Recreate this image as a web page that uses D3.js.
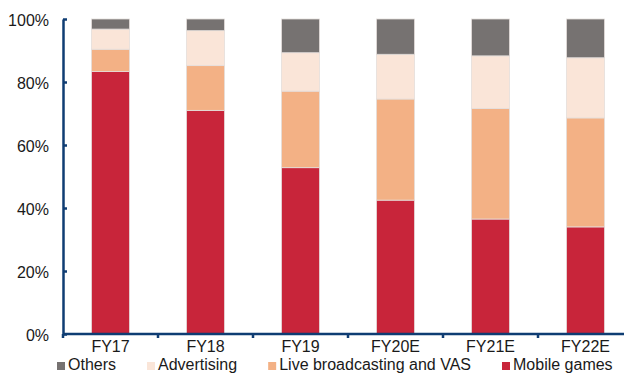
<!DOCTYPE html>
<html>
<head>
<meta charset="utf-8">
<script src="https://cdn.jsdelivr.net/npm/d3@7"></script>
<style>
  html, body { margin: 0; padding: 0; background: #fff; }
  svg { display: block; font-family: Arial, "Liberation Sans", sans-serif; }
</style>
</head>
<body>
<svg id="chart" width="624" height="374"></svg>
<script>
// Revenue mix by segment, share of total (%)
const categories = ["FY17", "FY18", "FY19", "FY20E", "FY21E", "FY22E"];
const mobileGames = [83.3, 71.0, 52.8, 42.5, 36.5, 34.0];
const liveBroadcasting = [7.1, 14.2, 24.3, 32.1, 35.1, 34.6];
const advertising = [6.4, 11.1, 12.2, 14.2, 16.7, 19.1];
const others = [3.2, 3.7, 10.7, 11.2, 11.7, 12.3];
const yTicks = [0, 20, 40, 60, 80, 100];

// Stack order bottom -> top
const seriesDefs = [
  { key: "Mobile games", values: mobileGames, color: "#C8253A" },
  { key: "Live broadcasting and VAS", values: liveBroadcasting, color: "#F3B185" },
  { key: "Advertising", values: advertising, color: "#FAE5D8" },
  { key: "Others", values: others, color: "#767271" }
];
// Legend order left -> right
const legendOrder = ["Others", "Advertising", "Live broadcasting and VAS", "Mobile games"];

const svg = d3.select("#chart");
const axisColor = "#0F3D73";
const textColor = "#1a1a1a";

const plotLeft = 63, plotRight = 633, plotTop = 19, plotBottom = 334;

const x = d3.scaleBand().domain(categories).range([plotLeft, plotRight])
  .paddingInner(0.6).paddingOuter(0.3);
const y = d3.scaleLinear().domain([0, 100]).range([plotBottom, plotTop]);

const rows = categories.map((c, i) => {
  const r = { cat: c };
  seriesDefs.forEach(s => r[s.key] = s.values[i]);
  return r;
});
const stack = d3.stack().keys(seriesDefs.map(s => s.key));
const stacked = stack(rows);
const colorOf = Object.fromEntries(seriesDefs.map(s => [s.key, s.color]));

// Bars
svg.append("g").selectAll("g")
  .data(stacked)
  .join("g")
  .attr("fill", d => colorOf[d.key])
  .selectAll("rect")
  .data(d => d)
  .join("rect")
  .attr("x", d => x(d.data.cat))
  .attr("width", x.bandwidth())
  .attr("y", d => y(d[1]))
  .attr("height", d => y(d[0]) - y(d[1]))
  .attr("stroke", "#e4dedb")
  .attr("stroke-width", 0.8);

// Y axis
const yAxis = svg.append("g")
  .attr("transform", `translate(${plotLeft},0)`)
  .call(d3.axisLeft(y).tickValues(yTicks).tickFormat(d => d + "%")
    .tickSizeInner(-4).tickSizeOuter(0).tickPadding(14));
yAxis.select(".domain").attr("stroke", axisColor).attr("stroke-width", 2.5);
yAxis.selectAll(".tick line").attr("stroke", axisColor).attr("stroke-width", 2.5);
yAxis.selectAll(".tick text")
  .attr("fill", textColor)
  .attr("font-size", 16)
  .attr("dy", "0.42em");

// X axis line with boundary ticks
const xAxis = svg.append("g");
xAxis.append("line")
  .attr("x1", plotLeft).attr("x2", plotRight)
  .attr("y1", plotBottom).attr("y2", plotBottom)
  .attr("stroke", axisColor).attr("stroke-width", 2.5);
const gap = (x.step() - x.bandwidth()) / 2;
xAxis.selectAll(".bt")
  .data(categories)
  .join("line")
  .attr("class", "bt")
  .attr("x1", d => x(d) - gap).attr("x2", d => x(d) - gap)
  .attr("y1", plotBottom).attr("y2", plotBottom + 4)
  .attr("stroke", axisColor).attr("stroke-width", 2.5);
xAxis.selectAll(".lbl")
  .data(categories)
  .join("text")
  .attr("class", "lbl")
  .attr("x", d => x(d) + x.bandwidth() / 2)
  .attr("y", plotBottom + 18)
  .attr("text-anchor", "middle")
  .attr("font-size", 16)
  .attr("fill", textColor)
  .text(d => d);

// Legend
const legend = svg.append("g").attr("transform", "translate(57,370)");
let cx = 0;
legendOrder.forEach(k => {
  const g = legend.append("g").attr("transform", `translate(${cx},0)`);
  g.append("rect").attr("x", 0).attr("y", -8).attr("width", 8).attr("height", 8)
    .attr("fill", colorOf[k]);
  const t = g.append("text").attr("x", 11).attr("y", 0)
    .attr("font-size", 16).attr("fill", textColor).text(k);
  cx += 11 + t.node().getComputedTextLength() + 31;
});
</script>
</body>
</html>
